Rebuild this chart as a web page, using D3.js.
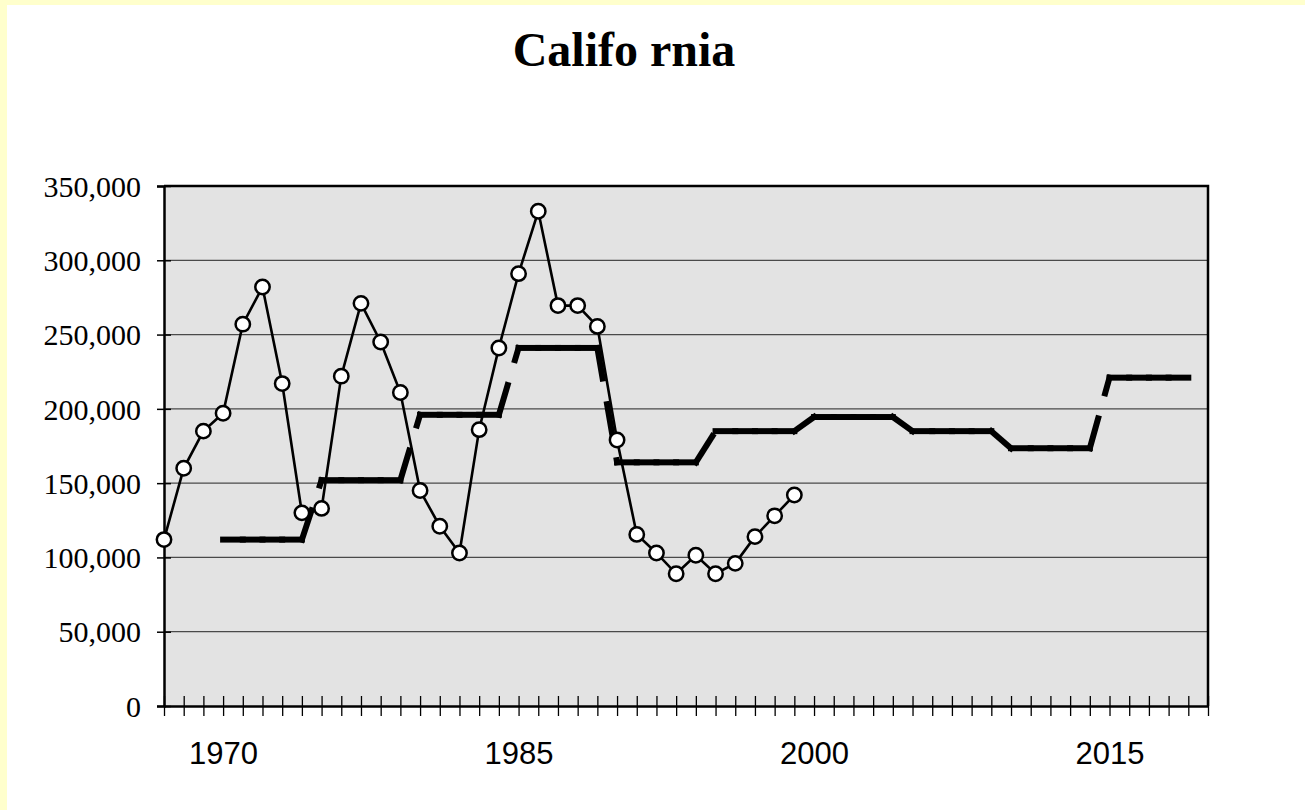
<!DOCTYPE html>
<html>
<head>
<meta charset="utf-8">
<script src="https://cdn.jsdelivr.net/npm/d3@7"></script>
<style>
  body { margin: 0; background: #ffffcc; }
  svg { display: block; }
</style>
</head>
<body>
<div id="chart"></div>
<script>
const years = d3.range(1967, 2021)
const yearLabels = [1970, 1985, 2000, 2015]
const yTicks = [0, 50000, 100000, 150000, 200000, 250000, 300000, 350000]

// actual values (open circles), 1967-1999
const actualYears = d3.range(1967, 2000)
const actualValues = [
  112000, 160000, 185000, 197000, 257000, 282000, 217000, 130000, 133000, 222000,
  271000, 245000, 211000, 145000, 121000, 103000, 186000, 241000, 291000, 333000,
  269500, 269500, 255500, 179000, 115500, 103000, 89000, 101500, 89000, 96000,
  114000, 128000, 142000
]

// projected values (thick dashed line), 1970-2019
const projYears = d3.range(1970, 2020)
const projLevels = [112000, 152000, 196000, 241000, 164000, 185000, 194500, 185000, 173500, 221000]
const projValues = projYears.map((yr, i) => projLevels[Math.floor(i / 5)])

const width = 1305
const height = 810
const plot = { left: 164, right: 1208, top: 186, bottom: 706 }

const svg = d3.select('#chart')
  .append('svg')
  .attr('width', width)
  .attr('height', height)

// white sheet over the yellow page
svg.append('rect')
  .attr('x', 7).attr('y', 5)
  .attr('width', width - 7).attr('height', height - 5)
  .attr('fill', '#fff')

svg.append('text')
  .attr('x', 624).attr('y', 66)
  .attr('text-anchor', 'middle')
  .style('font-family', '"Liberation Serif", "Times New Roman", serif')
  .style('font-weight', 'bold')
  .style('font-size', '48px')
  .text('Califo rnia')

const x = d3.scalePoint()
  .domain(years)
  .range([plot.left, plot.right])

const y = d3.scaleLinear()
  .domain([0, 350000])
  .range([plot.bottom, plot.top])

svg.append('rect')
  .attr('x', plot.left).attr('y', plot.top)
  .attr('width', plot.right - plot.left).attr('height', plot.bottom - plot.top)
  .attr('fill', '#e3e3e3')

// gridlines
svg.append('g')
  .selectAll('line')
  .data(yTicks.slice(1, -1))
  .enter()
  .append('line')
  .attr('x1', plot.left).attr('x2', plot.right)
  .attr('y1', d => y(d)).attr('y2', d => y(d))
  .attr('stroke', '#4a4a4a')
  .attr('stroke-width', 1.3)

// frame top + right
svg.append('path')
  .attr('d', `M${plot.left},${plot.top}H${plot.right}V${plot.bottom}`)
  .attr('fill', 'none')
  .attr('stroke', '#000')
  .attr('stroke-width', 2.5)

// y axis
const yAxis = svg.append('g')
  .attr('transform', `translate(${plot.left},0)`)
  .call(d3.axisLeft(y).tickValues(yTicks).tickSize(7).tickPadding(16).tickFormat(d3.format(',')))
yAxis.select('.domain').attr('stroke-width', 2.5)
yAxis.selectAll('.tick line').attr('x2', -7).attr('x1', 7).attr('stroke-width', 1.5)
yAxis.selectAll('.tick text')
  .attr('dy', '0.34em')
  .style('font-family', '"Liberation Serif", "Times New Roman", serif')
  .style('font-size', '30px')
  .attr('fill', '#000')

// x axis
const xAxis = svg.append('g')
  .attr('transform', `translate(0,${plot.bottom})`)
  .call(d3.axisBottom(x).tickValues(years).tickSize(10).tickSizeOuter(0)
    .tickFormat(d => yearLabels.includes(d) ? d : ''))
xAxis.select('.domain').attr('stroke-width', 2.5)
xAxis.selectAll('.tick line').attr('y1', -10).attr('stroke-width', 1.3)
xAxis.selectAll('.tick text')
  .attr('y', 58).attr('dy', 0)
  .style('font-family', '"Liberation Sans", Arial, sans-serif')
  .style('font-size', '31px')
  .attr('fill', '#000')

// projection: each segment dashed on its own, as the original renderer did
const projPoints = projYears.map((yr, i) => [x(yr), y(projValues[i])])
svg.append('g')
  .selectAll('line')
  .data(d3.pairs(projPoints))
  .enter()
  .append('line')
  .attr('x1', d => d[0][0]).attr('y1', d => d[0][1])
  .attr('x2', d => d[1][0]).attr('y2', d => d[1][1])
  .attr('stroke', '#000')
  .attr('stroke-width', 6)
  .attr('stroke-linecap', 'square')
  .attr('stroke-dasharray', '31,26')

// actual series
const line = d3.line()
  .x((d, i) => x(actualYears[i]))
  .y(d => y(d))

svg.append('path')
  .datum(actualValues)
  .attr('d', line)
  .attr('fill', 'none')
  .attr('stroke', '#000')
  .attr('stroke-width', 2.6)

svg.append('g')
  .selectAll('circle')
  .data(actualValues)
  .enter()
  .append('circle')
  .attr('cx', (d, i) => x(actualYears[i]))
  .attr('cy', d => y(d))
  .attr('r', 7.2)
  .attr('fill', '#fff')
  .attr('stroke', '#000')
  .attr('stroke-width', 2.5)
</script>
</body>
</html>
